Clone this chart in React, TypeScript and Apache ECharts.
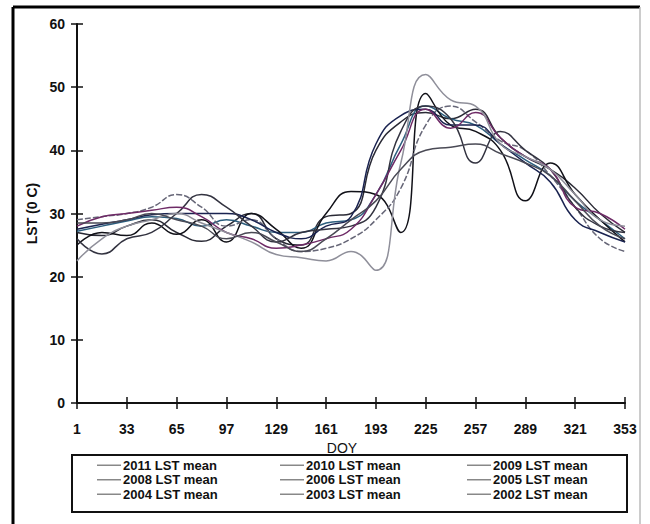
import React, { useEffect, useRef } from "react";
import * as echarts from "echarts";

// Day of year (16-day steps)
const doy = [1, 17, 33, 49, 65, 81, 97, 113, 129, 145, 161, 177, 193, 209, 225, 241, 257, 273, 289, 305, 321, 337, 353];
const xTicks = [1, 33, 65, 97, 129, 161, 193, 225, 257, 289, 321, 353];

// Mean land surface temperature (°C) per year
const lst2011 = [27, 26.5, 28, 29, 27, 25.6, 28, 30, 26, 25, 29.5, 30, 40, 44.5, 46, 45, 46.5, 42, 39, 37, 34, 30, 27];
const lst2010 = [27.2, 28, 28.8, 29.5, 29.2, 28, 29, 28, 27, 27, 28.5, 29, 33, 41, 47, 45, 44, 41, 38.5, 36, 32, 29, 26];
const lst2009 = [25, 27, 26.5, 28.5, 26.7, 29, 25.5, 30, 27.5, 24.5, 30, 33.5, 33, 27, 49, 44, 43, 40, 32, 38, 33, 29, 25.5];
const lst2008 = [29, 29.5, 30, 31, 33, 31, 28, 29, 26, 24, 24.5, 26, 29, 34, 44, 47, 44.5, 41.5, 40, 36, 31, 26, 24];
const lst2006 = [27.5, 28.3, 29, 29.8, 30, 30, 30, 29, 27, 26, 28, 29.5, 41, 45.5, 46.5, 44, 44, 41, 38, 35, 29, 27, 25.5];
const lst2005 = [26, 23.6, 26, 27, 30, 33, 31, 28, 25.5, 27, 27.5, 28, 31, 43, 47, 45, 38, 43, 40, 37, 31, 28, 27];
const lst2004 = [28, 29.5, 30, 30.5, 31, 29.5, 27, 26, 24.5, 25, 26, 27.5, 33, 40, 46.5, 43.5, 46, 42, 39, 37, 31, 30, 27.5];
const lst2003 = [22.5, 26, 28, 29, 30, 28.5, 27, 25.5, 23.5, 23, 22.5, 24, 21, 38, 52, 48, 47, 41, 39, 37, 33, 29, 28];
const lst2002 = [28.5, 28.5, 29, 30, 29, 28, 26, 27, 25.5, 24, 26, 29, 32, 37, 40, 40.5, 41, 39.5, 38, 36, 32, 28, 26];

const seriesDefs = [
  { name: "2011 LST mean", data: lst2011, color: "#2a2a35" },
  { name: "2010 LST mean", data: lst2010, color: "#2c5e7e" },
  { name: "2009 LST mean", data: lst2009, color: "#111118" },
  { name: "2008 LST mean", data: lst2008, color: "#666677", dashed: true },
  { name: "2006 LST mean", data: lst2006, color: "#1a2350" },
  { name: "2005 LST mean", data: lst2005, color: "#333340" },
  { name: "2004 LST mean", data: lst2004, color: "#6e2a66" },
  { name: "2003 LST mean", data: lst2003, color: "#8f8f9a" },
  { name: "2002 LST mean", data: lst2002, color: "#4a4a55" },
];

const legendCols = [
  ["2011 LST mean", "2008 LST mean", "2004 LST mean"],
  ["2010 LST mean", "2006 LST mean", "2003 LST mean"],
  ["2009 LST mean", "2005 LST mean", "2002 LST mean"],
];
const legendLeft = [97, 280, 467];

const FONT = "Liberation Sans, Arial, sans-serif";

export default function App() {
  const ref = useRef<HTMLDivElement>(null);

  useEffect(() => {
    if (!ref.current) return;
    const chart = echarts.init(ref.current, null, { renderer: "svg" });

    const axisText = { color: "#111", fontWeight: "bold", fontSize: 14, fontFamily: FONT };
    const tickStyle = { color: "#111", width: 1.5 };

    chart.setOption({
      animation: false,
      backgroundColor: "#fff",
      grid: { left: 77, right: 25, top: 24, bottom: 121 },
      xAxis: [
        {
          type: "value",
          min: 1,
          max: 353,
          name: "DOY",
          nameLocation: "middle",
          nameGap: 37,
          nameTextStyle: { color: "#111", fontSize: 14, fontFamily: FONT, padding: [0, 18, 0, 0] },
          splitLine: { show: false },
          axisLine: { lineStyle: { color: "#111", width: 2 } },
          axisTick: { customValues: xTicks, length: 6, lineStyle: tickStyle },
          axisLabel: { customValues: xTicks, margin: 19, ...axisText },
        },
        {
          type: "value",
          min: 1,
          max: 353,
          position: "bottom",
          splitLine: { show: false },
          axisLine: { show: false },
          axisTick: { customValues: xTicks, inside: true, length: 6, lineStyle: tickStyle },
          axisLabel: { show: false, customValues: xTicks },
        },
      ],
      yAxis: [
        {
          type: "value",
          min: 0,
          max: 60,
          interval: 10,
          name: "LST (0 C)",
          nameLocation: "middle",
          nameGap: 36,
          nameTextStyle: { color: "#111", fontWeight: "bold", fontSize: 14, fontFamily: FONT },
          splitLine: { show: false },
          axisLine: { show: true, lineStyle: { color: "#111", width: 2 } },
          axisTick: { show: true, length: 6, lineStyle: tickStyle },
          axisLabel: { margin: 12, ...axisText },
        },
        {
          type: "value",
          min: 0,
          max: 60,
          interval: 10,
          position: "left",
          splitLine: { show: false },
          axisLine: { show: false },
          axisTick: { show: true, inside: true, length: 6, lineStyle: tickStyle },
          axisLabel: { show: false },
        },
      ],
      legend: legendCols.map((names, i) => ({
        data: names,
        orient: "vertical",
        left: legendLeft[i],
        top: 458,
        icon: "rect",
        itemGap: 0,
        itemWidth: 24,
        itemHeight: 1.5,
        padding: 0,
        selectedMode: false,
        itemStyle: { color: "#888" },
        textStyle: {
          color: "#111",
          fontWeight: "bold",
          fontSize: 13,
          lineHeight: 14.5,
          fontFamily: FONT,
          padding: [0, 0, 0, -3],
        },
      })),
      graphic: [
        {
          type: "rect",
          shape: { x: 72, y: 455, width: 555, height: 57 },
          style: { fill: "none", stroke: "#111", lineWidth: 2 },
        },
        {
          type: "line",
          shape: { x1: 13, y1: 7, x2: 640, y2: 7 },
          style: { stroke: "#000", lineWidth: 3 },
        },
        {
          type: "line",
          shape: { x1: 13, y1: 7, x2: 13, y2: 524 },
          style: { stroke: "#000", lineWidth: 3 },
        },
        {
          type: "line",
          shape: { x1: 640, y1: 7, x2: 640, y2: 524 },
          style: { stroke: "#bbb", lineWidth: 1.5 },
        },
      ],
      series: seriesDefs.map((s) => ({
        name: s.name,
        type: "line",
        smooth: 0.5,
        symbol: "none",
        data: doy.map((d, i) => [d, s.data[i]]),
        color: s.color,
        lineStyle: { color: s.color, width: 1.5, type: s.dashed ? [6, 2] : "solid" },
      })),
    });

    return () => chart.dispose();
  }, []);

  return (
    <div
      ref={ref}
      style={{ width: 650, height: 524, position: "absolute", left: 0, top: 0 }}
    />
  );
}
